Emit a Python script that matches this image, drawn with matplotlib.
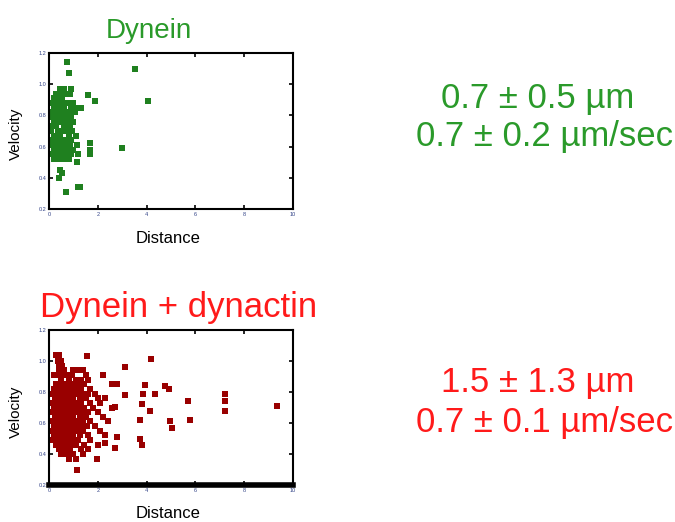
import numpy as np
import matplotlib
matplotlib.use("Agg")
import matplotlib.pyplot as plt

plt.rcParams['font.family'] = ['Liberation Sans', 'DejaVu Sans']

# dynein alone: rows of (velocity, distances), then outliers
dynein_rows = [
    (0.97, [0.45, 0.62, 0.9]),
    (0.94, [0.3, 0.5, 0.7, 0.85]),
    (0.91, [0.2, 0.4, 0.55]),
    (0.88, [0.15, 0.3, 0.5, 0.65, 0.8, 1.0]),
    (0.85, [0.2, 0.35, 0.6, 0.9, 1.1, 1.3]),
    (0.82, [0.15, 0.3, 0.45, 0.7, 0.85, 1.05]),
    (0.79, [0.1, 0.25, 0.5, 0.65, 0.9]),
    (0.76, [0.2, 0.4, 0.55, 0.75, 1.0]),
    (0.73, [0.15, 0.3, 0.6, 0.85]),
    (0.70, [0.1, 0.35, 0.5, 0.7, 0.95]),
    (0.67, [0.2, 0.45, 0.8, 1.1]),
    (0.64, [0.15, 0.3, 0.55, 0.7, 0.9]),
    (0.61, [0.1, 0.25, 0.45, 0.65, 0.85, 1.15]),
    (0.58, [0.2, 0.4, 0.6, 0.8, 1.0]),
    (0.55, [0.15, 0.3, 0.5, 0.7, 0.9, 1.2]),
    (0.52, [0.2, 0.4, 0.6, 0.8]),
]
dynein_out_x = [0.72, 0.83, 3.52, 1.61, 1.89, 4.07, 1.68, 1.68, 1.68, 2.98,
                1.13, 0.45, 0.55, 0.43, 1.2, 1.28, 0.7]
dynein_out_y = [1.14, 1.07, 1.10, 0.93, 0.89, 0.89, 0.62, 0.58, 0.55, 0.59,
                0.50, 0.45, 0.43, 0.40, 0.34, 0.34, 0.31]

# dynein + dynactin
dynactin_rows = [
    (1.04, [0.3, 0.4]),
    (1.00, [0.35, 0.5]),
    (0.97, [0.4, 0.55]),
    (0.94, [0.4, 0.6, 1.0, 1.2, 1.4]),
    (0.91, [0.2, 0.45, 0.7, 0.95, 1.5, 2.2]),
    (0.88, [0.5, 0.8, 1.1, 1.3, 1.6]),
    (0.85, [0.3, 0.55, 0.75, 0.95, 1.2, 1.45, 2.6, 2.8]),
    (0.82, [0.2, 0.4, 0.6, 0.85, 1.05, 1.3, 1.7]),
    (0.79, [0.15, 0.35, 0.5, 0.7, 0.9, 1.15, 1.4, 1.6, 1.9]),
    (0.76, [0.25, 0.45, 0.65, 0.8, 1.0, 1.25, 1.5, 2.0, 2.3]),
    (0.73, [0.15, 0.35, 0.55, 0.75, 0.95, 1.1, 1.3, 1.7, 2.1]),
    (0.70, [0.2, 0.4, 0.6, 0.85, 1.05, 1.2, 1.45, 1.8, 2.6]),
    (0.67, [0.15, 0.3, 0.5, 0.7, 0.9, 1.1, 1.35, 1.6, 2.0]),
    (0.64, [0.25, 0.45, 0.65, 0.8, 1.0, 1.25, 1.5, 2.2]),
    (0.61, [0.1, 0.3, 0.55, 0.75, 0.95, 1.15, 1.4, 1.7, 2.4]),
    (0.58, [0.2, 0.4, 0.6, 0.85, 1.05, 1.3, 1.55, 1.9]),
    (0.55, [0.15, 0.35, 0.5, 0.7, 0.9, 1.15, 1.4, 2.1]),
    (0.52, [0.2, 0.45, 0.65, 0.8, 1.0, 1.25, 1.6, 2.3]),
    (0.49, [0.15, 0.35, 0.55, 0.75, 0.95, 1.2, 1.7]),
    (0.46, [0.3, 0.5, 0.7, 0.9, 1.1, 1.45, 2.0]),
    (0.43, [0.4, 0.6, 0.85, 1.3, 1.6]),
    (0.40, [0.5, 0.75, 1.0, 1.4]),
    (0.37, [0.8, 1.1, 1.95]),
]
dynactin_out_x = [1.55, 1.13, 3.1, 4.2, 3.93, 3.87, 4.34, 4.75, 4.9, 3.8,
                  4.14, 5.7, 7.2, 7.2, 7.2, 9.35, 3.73, 4.96, 5.05, 5.78,
                  3.73, 3.8, 2.7, 2.77, 2.7, 3.1, 2.3]
dynactin_out_y = [1.03, 0.30, 0.96, 1.01, 0.845, 0.79, 0.79, 0.84, 0.82, 0.72,
                  0.68, 0.74, 0.79, 0.74, 0.68, 0.71, 0.62, 0.61, 0.57, 0.62,
                  0.50, 0.46, 0.705, 0.51, 0.44, 0.78, 0.47]

green_text = '#2a9a2a'
green_mark = '#1f801f'
red_text = '#ff1a1a'
red_mark = '#990000'


def flatten(rows, ox, oy):
    xs = [x for y, row in rows for x in row] + ox
    ys = [y for y, row in rows for x in row] + oy
    return np.array(xs), np.array(ys)


W, H = 675, 522
fig = plt.figure(figsize=(W / 100, H / 100), dpi=100)


def px_axes(left, top, right, bottom):
    return fig.add_axes([left / W, 1 - bottom / H, (right - left) / W, (bottom - top) / H])


def style(ax, bottom_lw=1.5):
    ax.set_xlim(0, 10)
    ax.set_ylim(0.2, 1.2)
    ax.set_xticks(np.arange(0, 11, 2))
    ax.set_yticks([0.2, 0.4, 0.6, 0.8, 1.0, 1.2])
    ax.set_yticklabels(['0.2', '0.4', '0.6', '0.8', '1.0', '1.2'])
    ax.tick_params(direction='in', length=3, width=1.2, top=True, right=True,
                   labelsize=4, labelcolor='#334488', pad=2)
    for s in ax.spines.values():
        s.set_linewidth(1.5)
    ax.spines['bottom'].set_linewidth(bottom_lw)


ax1 = px_axes(49, 53, 293, 209)
gx, gy = flatten(dynein_rows, dynein_out_x, dynein_out_y)
ax1.plot(gx, gy, 's', color=green_mark, ms=3.9, mew=0)
style(ax1)

ax2 = px_axes(49, 330, 293, 485)
rx, ry = flatten(dynactin_rows, dynactin_out_x, dynactin_out_y)
ax2.plot(rx, ry, 's', color=red_mark, ms=4.8, mew=0)
style(ax2, bottom_lw=4)


def ftext(x, y, s, **kw):
    fig.text(x / W, 1 - y / H, s, **kw)


ftext(149, 38, 'Dynein', color=green_text, fontsize=20, ha='center', va='baseline')
ftext(179, 317, 'Dynein + dynactin', color=red_text, fontsize=25, ha='center', va='baseline')

for ycen, xl in [(134, 'Velocity'), (412, 'Velocity')]:
    ftext(16, ycen, xl, fontsize=11, rotation=90, ha='center', va='center')
ftext(168, 243, 'Distance', fontsize=12, ha='center', va='baseline')
ftext(168, 518, 'Distance', fontsize=12, ha='center', va='baseline')

ftext(538, 108, '0.7 \u00b1 0.5 \u00b5m', color=green_text, fontsize=25, ha='center', va='baseline')
ftext(544, 146, '0.7 \u00b1 0.2 \u00b5m/sec', color=green_text, fontsize=25, ha='center', va='baseline')
ftext(538, 392, '1.5 \u00b1 1.3 \u00b5m', color=red_text, fontsize=25, ha='center', va='baseline')
ftext(544, 432, '0.7 \u00b1 0.1 \u00b5m/sec', color=red_text, fontsize=25, ha='center', va='baseline')

fig.savefig('out.png', dpi=100)
